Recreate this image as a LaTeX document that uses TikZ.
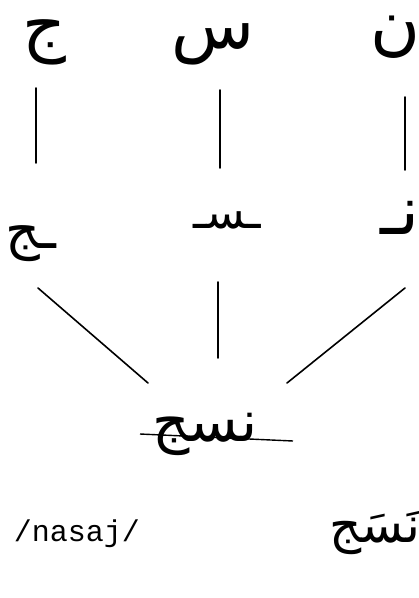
\documentclass[tikz,border=0pt]{standalone}
\usepackage{fontspec}
\TeXXeTstate=1
\newfontfamily\arabicfont[Script=Arabic]{DejaVu Sans}
\newfontfamily\monofont{Liberation Mono}
\begin{document}
\begin{tikzpicture}[x=1pt,y=-1pt,
  ar/.style={font=\arabicfont\fontsize{68}{76}\selectfont, inner sep=0pt, text height=0.35em, text depth=0.25em},
  arsm/.style={font=\arabicfont\fontsize{54}{60}\selectfont, inner sep=0pt, text height=0.35em, text depth=0.25em},
  arword/.style={font=\arabicfont\fontsize{58}{64}\selectfont, inner sep=0pt, text height=0.35em, text depth=0.25em},
  link/.style={line width=1.6pt, line cap=round},
  base/.style={line width=1.4pt}]
\useasboundingbox (0,0) rectangle (419,598);
% top row: isolated letters
\node[ar] (j1) at (44,48) {\beginR ج\endR};
\node[ar] (s1) at (213,48) {\beginR س\endR};
\node[ar] (n1) at (395,47) {\beginR ن\endR};
% second row: positional forms
\node[arsm] (j2) at (31,248) {\beginR ـج\endR};
\node[font=\arabicfont\fontsize{46}{52}\selectfont, inner sep=0pt, text height=0.35em, text depth=0.25em] (s2) at (227,228) {\beginR ـسـ\endR};
\node[ar] (n2) at (400,234) {\beginR نـ\endR};
% word
\node[arword] (w) at (205,441) {\beginR نسج\endR};
\coordinate (wl) at (140,434);
\coordinate (wr) at (293,441);
\draw[base] (wl) -- (wr);
% vertical connectors
\coordinate (a1) at (36,88);  \coordinate (a2) at (36,163);
\coordinate (b1) at (220,90); \coordinate (b2) at (220,168);
\coordinate (c1) at (405,97); \coordinate (c2) at (405,170);
\draw[link] (a1) -- (a2);
\draw[link] (b1) -- (b2);
\draw[link] (c1) -- (c2);
% converging connectors
\coordinate (d1) at (38,288);  \coordinate (d2) at (148,383);
\coordinate (e1) at (218,282); \coordinate (e2) at (218,358);
\coordinate (f1) at (405,288); \coordinate (f2) at (287,383);
\draw[link] (d1) -- (d2);
\draw[link] (e1) -- (e2);
\draw[link] (f1) -- (f2);
% transcription
\node[font=\monofont\fontsize{30}{34}\selectfont, inner sep=0pt] (t) at (77,534) {/nasaj/};
\node[font=\arabicfont\fontsize{50}{58}\selectfont, inner sep=0pt, text height=0.35em, text depth=0.25em] (w2) at (375,542) {\beginR نَسَج\endR};
\end{tikzpicture}
\end{document}
